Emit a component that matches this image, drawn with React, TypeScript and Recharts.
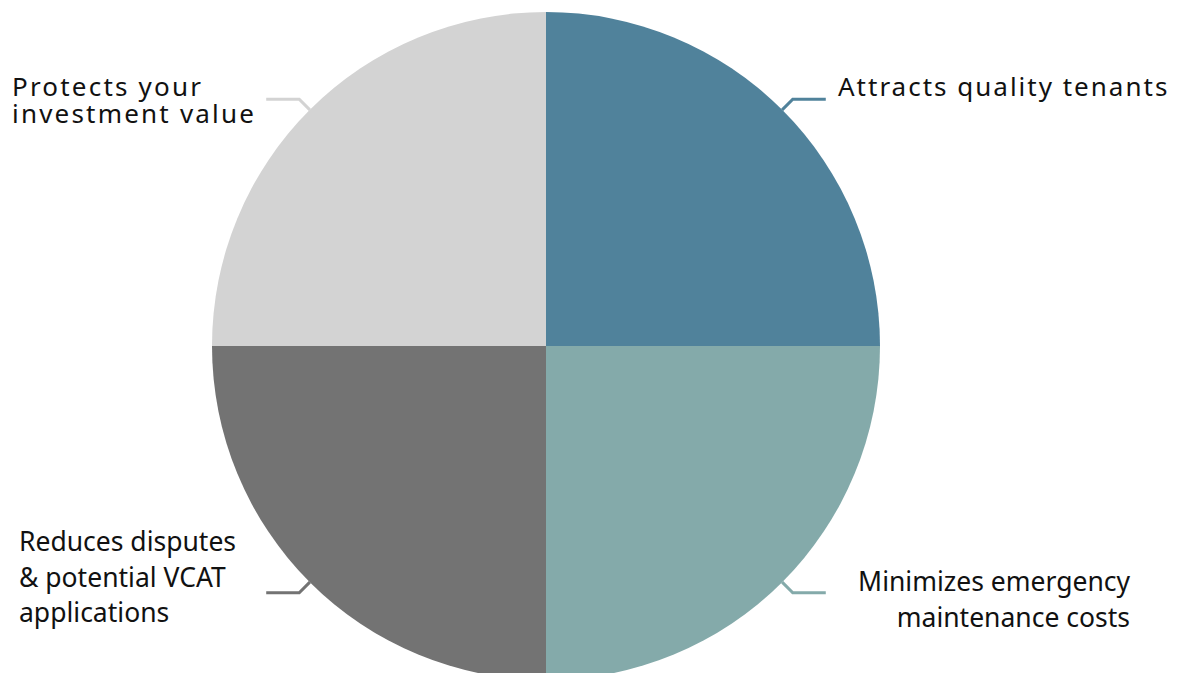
import React from "react"
import { PieChart, Pie, Cell } from "recharts"

const categories = [
  "Attracts quality tenants",
  "Minimizes emergency maintenance costs",
  "Reduces disputes & potential VCAT applications",
  "Protects your investment value",
]
const values = [25, 25, 25, 25]
const labelLines = [
  ["Attracts quality tenants"],
  ["Minimizes emergency", "maintenance costs"],
  ["Reduces disputes", "& potential VCAT", "applications"],
  ["Protects your", "investment value"],
]
const colors = ["#50829b", "#84aaaa", "#737373", "#d3d3d3"]

const data = categories.map((name, i) => ({ name, value: values[i] }))

// text placement for each label (x, anchor, first baseline, line gap)
const labelLayout = [
  { x: 838, anchor: "start", y: 96, gap: 27, size: 26, spacing: 2 },
  { x: 1130, anchor: "end", y: 591, gap: 35.5, size: 26.5, spacing: 0 },
  { x: 19, anchor: "start", y: 551, gap: 35.5, size: 26.5, spacing: 0 },
  { x: 12, anchor: "start", y: 96, gap: 27, size: 26, spacing: 2.2 },
]

const RADIAN = Math.PI / 180

function renderLabel(props: any) {
  const { cx, cy, midAngle, outerRadius, index } = props
  const cos = Math.cos(-midAngle * RADIAN)
  const sin = Math.sin(-midAngle * RADIAN)
  const sx = cx + outerRadius * cos
  const sy = cy + outerRadius * sin
  const mx = cx + (outerRadius + 15) * cos
  const my = cy + (outerRadius + 15) * sin
  const ex = mx + (cos >= 0 ? 33 : -33)
  const lay = labelLayout[index]
  return (
    <g key={`label-${index}`}>
      <polyline
        points={`${sx},${sy} ${mx},${my} ${ex},${my}`}
        fill="none"
        stroke={colors[index]}
        strokeWidth={3}
      />
      <text
        x={lay.x}
        y={lay.y}
        textAnchor={lay.anchor as any}
        fill="#111"
        fontSize={lay.size}
        letterSpacing={lay.spacing}
        fontFamily="'Noto Sans', sans-serif"
      >
        {labelLines[index].map((line, j) => (
          <tspan key={j} x={lay.x} y={lay.y + j * lay.gap}>
            {line}
          </tspan>
        ))}
      </text>
    </g>
  )
}

export default function App() {
  return (
    <div style={{ position: "absolute", left: 0, top: 0, width: 1179, height: 673, background: "#fff" }}>
      <PieChart width={1179} height={673} margin={{ top: 0, right: 0, bottom: 0, left: 0 }}>
        <Pie
          data={data}
          dataKey="value"
          nameKey="name"
          cx={546}
          cy={346}
          outerRadius={334}
          startAngle={90}
          endAngle={-270}
          stroke="none"
          label={renderLabel}
          labelLine={false}
          isAnimationActive={false}
        >
          {data.map((entry, i) => (
            <Cell key={`cell-${i}`} fill={colors[i]} />
          ))}
        </Pie>
      </PieChart>
    </div>
  )
}
